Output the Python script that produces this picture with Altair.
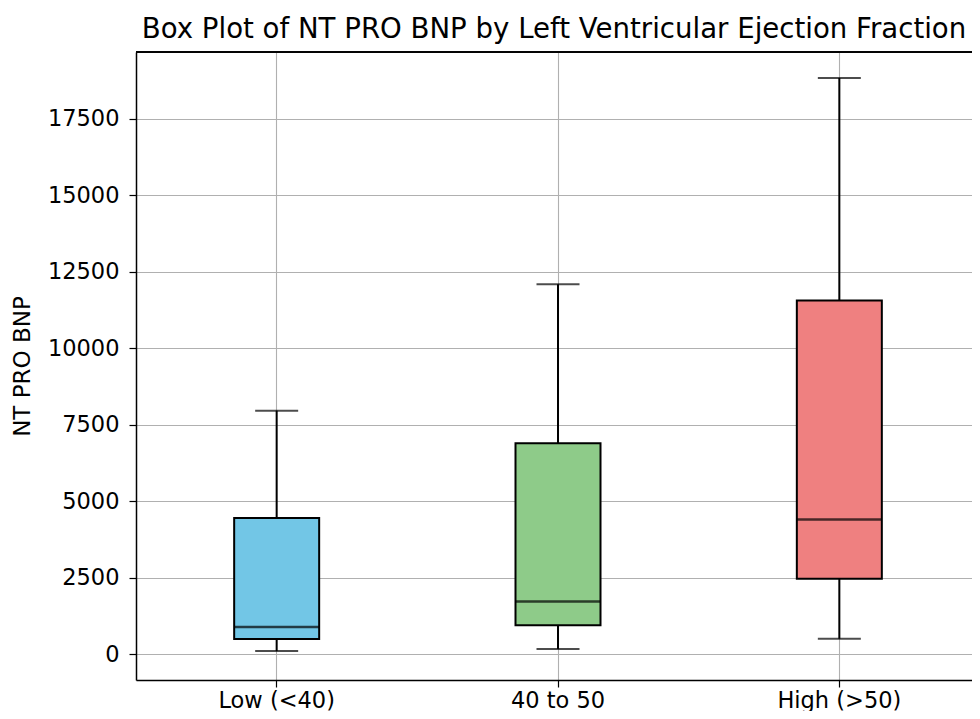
import altair as alt
import pandas as pd

categories = ["Low (<40)", "40 to 50", "High (>50)"]
whisker_low = [100, 165, 500]
q1 = [490, 940, 2460]
median = [880, 1720, 4400]
q3 = [4450, 6890, 11560]
whisker_high = [7960, 12090, 18840]
box_colors = ["#72c6e6", "#8ecb89", "#ef8080"]
y_ticks = [0, 2500, 5000, 7500, 10000, 12500, 15000, 17500]

df = pd.DataFrame({
    "cat": categories,
    "lo": whisker_low,
    "q1": q1,
    "med": median,
    "q3": q3,
    "hi": whisker_high,
})

FONT = "DejaVu Sans"
GRID = "#b0b0b0"

x_axis = alt.Axis(
    title=None, labelAngle=0, grid=True, gridColor=GRID, gridWidth=1.1,
    bandPosition=0.5, domainColor="black", domainWidth=1.5,
    tickColor="black", tickSize=7, tickWidth=1.2,
    labelFont=FONT, labelFontSize=22.5, labelColor="black", labelPadding=2,
)
y_axis = alt.Axis(
    values=y_ticks, format="d", grid=True, gridColor=GRID, gridWidth=1.1,
    domainColor="black", domainWidth=1.5,
    tickColor="black", tickSize=7, tickWidth=1.2,
    labelFont=FONT, labelFontSize=22.5, labelColor="black", labelPadding=10,
    title="NT PRO BNP", titleFont=FONT, titleFontSize=23, titleFontWeight="normal",
    titleColor="black", titlePadding=13,
)
x_scale = alt.Scale(domain=categories, range=[0, 844], paddingInner=0, paddingOuter=0)
y_scale = alt.Scale(domain=[-850, 19690], nice=False, zero=False)


def X():
    return alt.X("cat:N", sort=categories, scale=x_scale, axis=x_axis)


def Y(field):
    return alt.Y(f"{field}:Q", scale=y_scale, axis=y_axis, title="NT PRO BNP")


base = alt.Chart(df)

whiskers = base.mark_rule(color="black", strokeWidth=2).encode(
    x=X(), y=Y("lo"), y2="hi:Q"
)
boxes = base.mark_bar(size=85, stroke="black", strokeWidth=2).encode(
    x=X(), y=Y("q1"), y2="q3:Q",
    color=alt.Color("cat:N", scale=alt.Scale(domain=categories, range=box_colors), legend=None),
)
medians = base.mark_tick(size=85, thickness=2.5, color="black").encode(x=X(), y=Y("med"))
caps_lo = base.mark_tick(size=43, thickness=2, color="black").encode(x=X(), y=Y("lo"))
caps_hi = base.mark_tick(size=43, thickness=2, color="black").encode(x=X(), y=Y("hi"))

top_spine = alt.Chart(df).mark_rule(color="black", strokeWidth=1.5).encode(
    y=alt.value(0), x=alt.value(0), x2=alt.value(844)
)

chart = alt.layer(whiskers, boxes, medians, caps_lo, caps_hi, top_spine).properties(
    width=836,
    height=628,
    autosize=alt.AutoSizeParams(type="none"),
    padding={"left": 128, "top": 44, "right": 0, "bottom": 31},
    title=alt.TitleParams(
        "Box Plot of NT PRO BNP by Left Ventricular Ejection Fraction",
        font=FONT, fontSize=27.6, fontWeight="normal", color="black",
        anchor="middle", dx=0, offset=8,
    ),
).configure_view(stroke=None).configure(background="white")

chart.save("out.html", embed_options={"renderer": "svg", "actions": False})
